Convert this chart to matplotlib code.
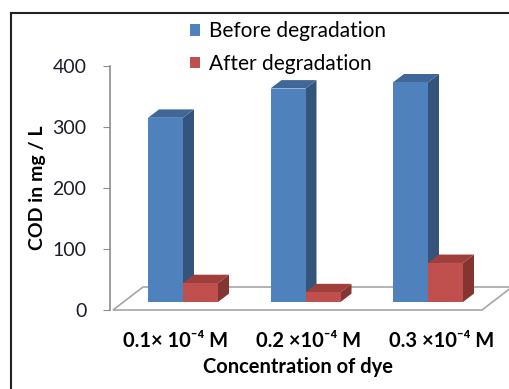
import matplotlib
matplotlib.use("Agg")
import matplotlib.pyplot as plt
from matplotlib.patches import Polygon, Patch
from matplotlib.lines import Line2D

plt.rcParams['font.family'] = ['Lato', 'DejaVu Sans']

# ======= Data =======
categories = ["0.1\u00d7 10\u207b\u2074 M", "0.2 \u00d710\u207b\u2074 M", "0.3 \u00d710\u207b\u2074 M"]
before = [302, 350, 360]
after = [31, 16, 64]
series_names = ["Before degradation", "After degradation"]

# colours: front, side, top
blue = ("#4F81BD", "#34547C", "#3F6899")
red = ("#C0504D", "#843532", "#9E3F3C")

W, H = 509, 389
fig = plt.figure(figsize=(W / 100, H / 100), dpi=100)

# axes placed in pixels: left 110, right 509, value 0 at y=310, 400 at y=66
ax = fig.add_axes([110 / W, (H - 310) / H, (W - 110) / W, (310 - 66) / H])
ax.set_ylim(0, 400)
px_x = 122.5               # pixels per category unit
px_y = (310 - 66) / 400.0  # pixels per value unit
ax.set_xlim(-73 / px_x, -73 / px_x + (W - 110) / px_x)

w = 35 / px_x                       # bar width
ddx, ddy = 11 / px_x, 8.4 / px_y    # bar depth
base = 8 / px_y                     # bars stand inside the floor
fdx, fdy = 30 / px_x, 23 / px_y     # floor depth

# floor
x_floor0 = (113 - 110) / px_x + ax.get_xlim()[0]
x_floor1 = (482 - 110) / px_x + ax.get_xlim()[0]
floor = Polygon([(x_floor0, 0), (x_floor1, 0), (x_floor1 + fdx, fdy),
                 (x_floor0 + fdx, fdy)], closed=True, facecolor="white",
                edgecolor="#A6A6A6", lw=1.2, clip_on=False, zorder=1)
ax.add_patch(floor)


def bar3d(x0, v, cols, z):
    front, side, top = cols
    ax.add_patch(Polygon([(x0 + w, base), (x0 + w + ddx, base + ddy),
                          (x0 + w + ddx, base + v + ddy), (x0 + w, base + v)],
                         closed=True, facecolor=side, edgecolor="none", zorder=z))
    ax.add_patch(Polygon([(x0, base + v), (x0 + ddx, base + v + ddy),
                          (x0 + w + ddx, base + v + ddy), (x0 + w, base + v)],
                         closed=True, facecolor=top, edgecolor="none", zorder=z))
    ax.bar(x0, v, width=w, bottom=base, align="edge", color=front,
           edgecolor="none", zorder=z)


for i in range(len(categories)):
    bar3d(i - w, before[i], blue, 2)
    bar3d(i, after[i], red, 3)

# axes styling
for s in ["top", "right", "bottom"]:
    ax.spines[s].set_visible(False)
ax.spines["left"].set_color("#8C8C8C")
ax.spines["left"].set_linewidth(1.2)
ax.set_yticks([0, 100, 200, 300, 400])
ax.tick_params(axis="y", direction="out", length=5, color="#8C8C8C",
               labelsize=14, pad=12, labelcolor="#1C1C2C")

label_pos = [i * 1.085 - 0.06 for i in range(len(categories))]
ax.set_xticks(label_pos)
ax.set_xticklabels(categories, fontsize=14.5, fontweight="bold")
ax.tick_params(axis="x", length=0, pad=15)

fig.text(298 / W, 1 - 367 / H, "Concentration of dye", fontsize=14.5,
         fontweight="bold", ha="center", va="center")
fig.text(38 / W, 1 - 188 / H, "COD in mg / L", fontsize=14,
         fontweight="bold", ha="center", va="center", rotation=90)

# legend
handles = [Patch(facecolor=blue[0]), Patch(facecolor=red[0])]
fig.legend(handles, series_names, loc="upper left",
           bbox_to_anchor=(190 / W, 1 - 21 / H), frameon=False, fontsize=15,
           handlelength=0.5, handleheight=0.5, handletextpad=0.4,
           labelspacing=0.62, borderaxespad=0, borderpad=0)

# outer frame
fig.add_artist(Line2D([11 / W, 1], [1 - 13 / H, 1 - 13 / H], color="#222222", lw=1.5))
fig.add_artist(Line2D([11 / W, 11 / W], [0, 1 - 13 / H], color="#222222", lw=1.5))

fig.savefig("out.png", dpi=100)
